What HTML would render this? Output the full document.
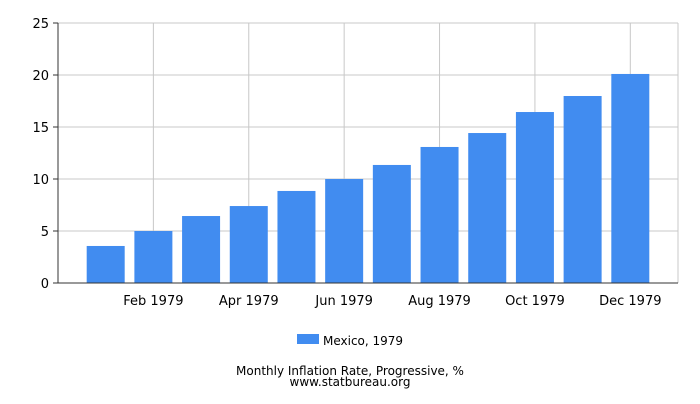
<!DOCTYPE html>
<html><head><meta charset="utf-8"><style>
body{margin:0;background:#fff;font-family:"DejaVu Sans","Liberation Sans",sans-serif;}
svg text{font-family:"DejaVu Sans","Liberation Sans",sans-serif;}
</style></head><body>
<svg id="chart" width="700" height="400" xmlns="http://www.w3.org/2000/svg"></svg>
<script>
const categories=["Jan 1979","Feb 1979","Mar 1979","Apr 1979","May 1979","Jun 1979","Jul 1979","Aug 1979","Sep 1979","Oct 1979","Nov 1979","Dec 1979"];
const values=[3.56,5.0,6.44,7.4,8.85,10.0,11.35,13.08,14.42,16.44,17.98,20.1];
const yTicks=[0,5,10,15,20,25];
const svg=document.getElementById('chart');
const NS='http://www.w3.org/2000/svg';
const x0=58,x1=678,y0=283,y1=23,yMax=25;
const slot=(x1-x0)/13;
function xs(i){return x0+slot*(i+1);}
function ys(v){return y0-(v/yMax)*(y0-y1);}
function mk(t,a,txt){const e=document.createElementNS(NS,t);for(const k in a)e.setAttribute(k,a[k]);if(txt!==undefined)e.textContent=txt;svg.appendChild(e);return e;}
yTicks.forEach(t=>{
 const g=mk('line',{x1:x0,x2:x1,y1:ys(t),y2:ys(t),stroke:'#c8c8c8','stroke-width':1});
 
 
 const tk=mk('line',{x1:x0-5,x2:x0,y1:ys(t),y2:ys(t),stroke:'#333'});
 
 
 const l=mk('text',{x:x0-9,y:ys(t)+5,'text-anchor':'end','font-size':13,fill:'#000'},t);
 
 
});
categories.forEach((c,i)=>{
 if(i%2===1){
  const g=mk('line',{x1:xs(i),x2:xs(i),y1:y1,y2:y0,stroke:'#c8c8c8'});
  
  
  const l=mk('text',{x:xs(i),y:305,'text-anchor':'middle','font-size':13,fill:'#000'},c);
  
  
 }
});
mk('line',{x1:x1,x2:x1,y1:y1,y2:y0,stroke:'#c8c8c8'});
values.forEach((v,i)=>{
 const b=mk('rect',{x:xs(i)-19,y:ys(v),width:38,height:y0-ys(v),fill:'#418cf0'});
 
 
});
const ax=mk('line',{x1:x0,x2:x0,y1:y1,y2:y0,stroke:'#333'});


const bx=mk('line',{x1:x0,x2:x1,y1:y0,y2:y0,stroke:'#333'});


const ls=mk('rect',{x:297,y:334,width:22,height:10,fill:'#418cf0'});


const lt=mk('text',{x:323,y:345,'font-size':12,fill:'#000'},'Mexico, 1979');


const t1=mk('text',{x:350,y:375,'text-anchor':'middle','font-size':12,fill:'#000'},'Monthly Inflation Rate, Progressive, %');


const t2=mk('text',{x:350,y:386,'text-anchor':'middle','font-size':12,fill:'#000'},'www.statbureau.org');


</script>
</body></html>
